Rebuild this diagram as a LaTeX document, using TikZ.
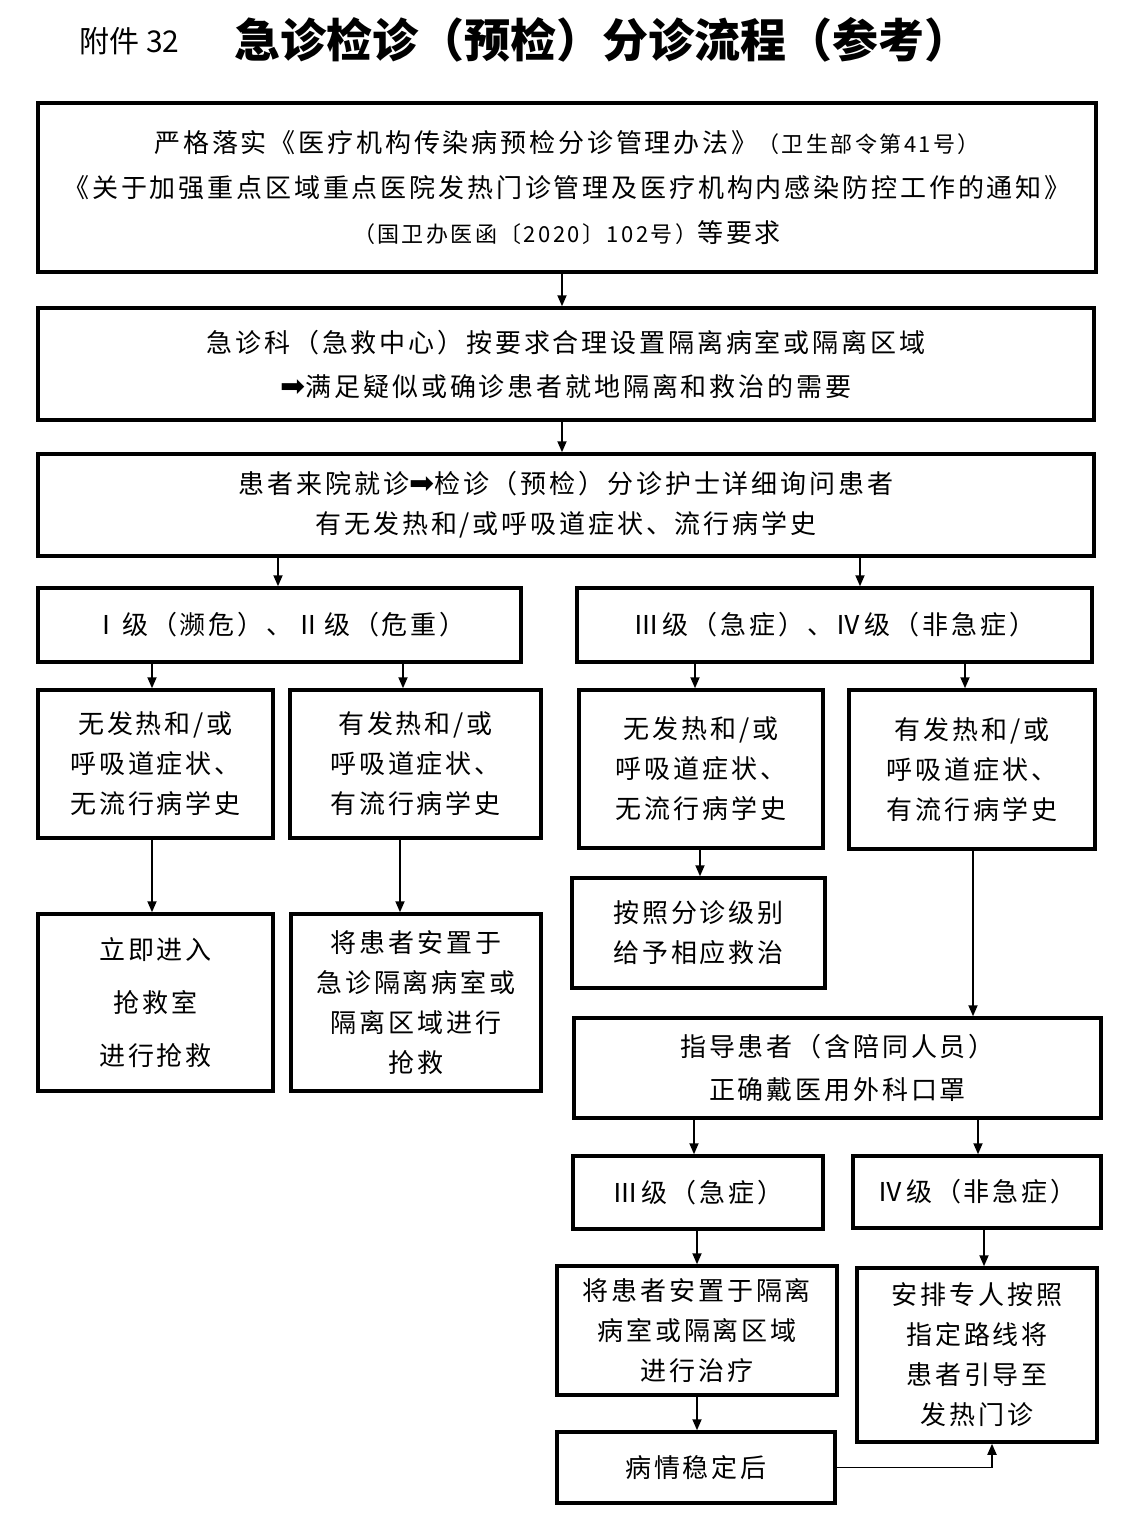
\documentclass[tikz,border=0pt]{standalone}
\usepackage{fontspec}
\usetikzlibrary{arrows.meta}
\newfontfamily\cjk[LetterSpace=11]{Noto Sans CJK SC}
\newfontfamily\cjktitle{Noto Sans CJK SC}
\newfontfamily\dv{DejaVu Sans}
\newcommand\bodyfont{\cjk\fontsize{26}{40}\selectfont}
\newcommand\smallf{\fontsize{22}{40}\selectfont}
\newcommand\rarr{{\dv\fontsize{30}{40}\selectfont ➡}}
\tikzset{
  box/.style={draw, line width=3.5pt, inner sep=0pt, align=center, font=\bodyfont},
  arr/.style={line width=1.8pt, -{Triangle[length=11pt,width=9pt]}}
}
\begin{document}
\begin{tikzpicture}[x=1pt,y=-1pt]
\useasboundingbox (0,0) rectangle (1145,1536);
% title
\node[font=\cjktitle\fontsize{30}{34}\selectfont, anchor=west] (att) at (76,41) {附件 32};
\node[font=\cjktitle\bfseries\fontsize{46}{50}\selectfont] (title) at (602,40) {急诊检诊（预检）分诊流程（参考）};
% boxes
\node[box, minimum width=1058, minimum height=169] (b1) at (567,187.5)
 {严格落实《医疗机构传染病预检分诊管理办法》{\smallf（卫生部令第41号）}\\[5pt]
  《关于加强重点区域重点医院发热门诊管理及医疗机构内感染防控工作的通知》\\[5pt]
  {\smallf（国卫办医函〔2020〕102号）}等要求};
\node[box, minimum width=1056, minimum height=112] (b2) at (566,364)
 {急诊科（急救中心）按要求合理设置隔离病室或隔离区域\\[4pt]
  \rarr 满足疑似或确诊患者就地隔离和救治的需要};
\node[box, minimum width=1056, minimum height=102] (b3) at (566,505)
 {患者来院就诊\rarr 检诊（预检）分诊护士详细询问患者\\
  有无发热和/或呼吸道症状、流行病学史};
\node[box, minimum width=483, minimum height=74] (b4l) at (279.5,625)
 {Ⅰ级（濒危）、Ⅱ级（危重）};
\node[box, minimum width=515, minimum height=74] (b4r) at (834.5,625)
 {Ⅲ级（急症）、Ⅳ级（非急症）};
\node[box, minimum width=235, minimum height=148] (b5a) at (155.5,764)
 {无发热和/或\\呼吸道症状、\\无流行病学史};
\node[box, minimum width=251, minimum height=148] (b5b) at (415.5,764)
 {有发热和/或\\呼吸道症状、\\有流行病学史};
\node[box, minimum width=244, minimum height=158] (b5c) at (701,769)
 {无发热和/或\\呼吸道症状、\\无流行病学史};
\node[box, minimum width=246, minimum height=159] (b5d) at (972,769.5)
 {有发热和/或\\呼吸道症状、\\有流行病学史};
\node[box, minimum width=235, minimum height=177] (b6a) at (155.5,1002.5)
 {立即进入\\[13pt]抢救室\\[13pt]进行抢救};
\node[box, minimum width=250, minimum height=177] (b6b) at (416,1002.5)
 {将患者安置于\\急诊隔离病室或\\隔离区域进行\\抢救};
\node[box, minimum width=253, minimum height=110] (b6c) at (698.5,933)
 {按照分诊级别\\给予相应救治};
\node[box, minimum width=527, minimum height=100] (b7) at (837.5,1068)
 {指导患者（含陪同人员）\\[3pt]正确戴医用外科口罩};
\node[box, minimum width=250, minimum height=73] (b8a) at (698,1192.5)
 {Ⅲ级（急症）};
\node[box, minimum width=248, minimum height=72] (b8b) at (977,1192)
 {Ⅳ级（非急症）};
\node[box, minimum width=280, minimum height=129] (b9a) at (697,1330.5)
 {将患者安置于隔离\\病室或隔离区域\\进行治疗};
\node[box, minimum width=240, minimum height=174] (b9b) at (977,1355)
 {安排专人按照\\指定路线将\\患者引导至\\发热门诊};
\node[box, minimum width=278, minimum height=71] (b10) at (696,1467.5)
 {病情稳定后};
% connectors
\draw[arr] (b1.south -| 562,0) -- (b2.north -| 562,0);
\draw[arr] (b2.south -| 562,0) -- (b3.north -| 562,0);
\draw[arr] (b3.south -| 278,0) -- (b4l.north -| 278,0);
\draw[arr] (b3.south -| 860,0) -- (b4r.north -| 860,0);
\draw[arr] (b4l.south -| 152,0) -- (b5a.north -| 152,0);
\draw[arr] (b4l.south -| 403,0) -- (b5b.north -| 403,0);
\draw[arr] (b4r.south -| 695,0) -- (b5c.north -| 695,0);
\draw[arr] (b4r.south -| 965,0) -- (b5d.north -| 965,0);
\draw[arr] (b5a.south -| 152,0) -- (b6a.north -| 152,0);
\draw[arr] (b5b.south -| 400,0) -- (b6b.north -| 400,0);
\draw[arr] (b5c.south -| 700,0) -- (b6c.north -| 700,0);
\draw[arr] (b5d.south -| 973,0) -- (b7.north -| 973,0);
\draw[arr] (b7.south -| 694,0) -- (b8a.north -| 694,0);
\draw[arr] (b7.south -| 978,0) -- (b8b.north -| 978,0);
\draw[arr] (b8a.south -| 697,0) -- (b9a.north -| 697,0);
\draw[arr] (b8b.south -| 984,0) -- (b9b.north -| 984,0);
\draw[arr] (b9a.south -| 697,0) -- (b10.north -| 697,0);
\draw[arr] (b10.east) -| (b9b.south -| 992,0);
\end{tikzpicture}
\end{document}
